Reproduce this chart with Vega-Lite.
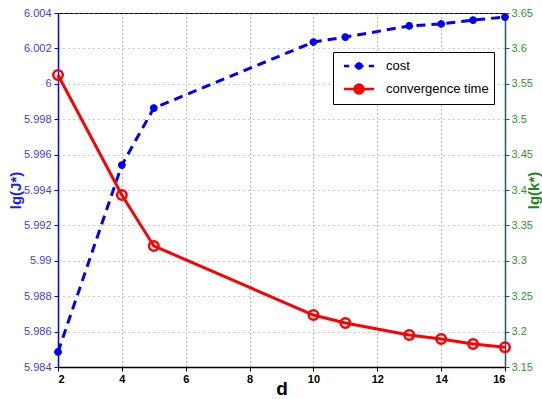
{
  "$schema": "https://vega.github.io/schema/vega-lite/v6.json",
  "width": 447,
  "height": 354,
  "autosize": {"type": "none"},
  "padding": {"left": 58, "top": 13, "right": 37, "bottom": 32},
  "background": "white",
  "config": {
    "view": {"stroke": "black", "strokeWidth": 1},
    "font": "Liberation Sans",
    "axis": {"labelFont": "Liberation Sans", "titleFont": "Liberation Sans", "tickSize": 4, "labelFontSize": 11}
  },
  "data": {
    "values": [
      {"d": 2, "cost": 5.98485, "conv": 3.5624},
      {"d": 4, "cost": 5.99541, "conv": 3.393},
      {"d": 5, "cost": 5.99863, "conv": 3.321},
      {"d": 10, "cost": 6.00236, "conv": 3.2234},
      {"d": 11, "cost": 6.00264, "conv": 3.2121},
      {"d": 13, "cost": 6.00327, "conv": 3.1952},
      {"d": 14, "cost": 6.00338, "conv": 3.1895},
      {"d": 15, "cost": 6.0036, "conv": 3.1825},
      {"d": 16, "cost": 6.00377, "conv": 3.178}
    ]
  },
  "encoding": {
    "x": {
      "field": "d",
      "type": "quantitative",
      "scale": {"domain": [2, 16], "nice": false, "zero": false},
      "axis": {
        "values": [2, 4, 6, 8, 10, 12, 14, 16],
        "title": "d",
        "titleFontSize": 19,
        "titleFontWeight": "bold",
        "titleColor": "black",
        "titleY": 27,
        "titleBaseline": "alphabetic",
        "labelFontWeight": "bold",
        "labelColor": "black",
        "labelFontSize": 11,
        "labelPadding": 2,
        "grid": true,
        "gridDash": [1, 3],
        "gridColor": "#555555",
        "gridOpacity": 0.8,
        "domainColor": "black",
        "domainWidth": 1.5,
        "tickColor": "black"
      }
    }
  },
  "layer": [
    {
      "encoding": {
        "y": {
          "field": "cost",
          "type": "quantitative",
          "scale": {"domain": [5.984, 6.004], "nice": false, "zero": false},
          "axis": {
            "orient": "left",
            "values": [5.984, 5.986, 5.988, 5.99, 5.992, 5.994, 5.996, 5.998, 6, 6.002, 6.004],
            "labelExpr": "format(datum.value, '.3~f')",
            "title": "lg(J*)",
            "titleColor": "#1a1aff",
            "titleFontSize": 15,
            "titleFontWeight": "bold",
            "titleAngle": 270,
            "titleX": -43,
            "titleY": 177,
            "titleBaseline": "middle",
            "titleAlign": "center",
            "labelColor": "#3b3bff",
            "labelFontSize": 11,
            "labelPadding": 3,
            "domainColor": "#0000ff",
            "domainWidth": 1.5,
            "tickColor": "#0000ff",
            "grid": true,
            "gridColor": "#8080ff",
            "gridDash": [1, 4],
            "gridOpacity": 0.9
          }
        }
      },
      "layer": [
        {
          "mark": {"type": "line", "strokeWidth": 3, "strokeDash": [9, 6]},
          "encoding": {
            "color": {
              "datum": "cost",
              "type": "nominal",
              "scale": {"domain": ["cost", "convergence time"], "range": ["#0000ff", "#ff0000"]},
              "legend": {
                "title": null,
                "orient": "none",
                "legendX": 275,
                "legendY": 39,
                "strokeColor": "black",
                "fillColor": "white",
                "padding": 5,
                "rowPadding": 4,
                "labelFontSize": 13,
                "labelColor": "black",
                "labelFont": "Liberation Sans",
                "symbolSize": 225,
                "symbolOffset": 12,
                "labelOffset": 18,
                "symbolStrokeWidth": 2.5,
                "encode": {
                  "symbols": {
                    "update": {
                      "shape": {"signal": "datum.value == 'cost' ? 'M-2,0H-1.3M-0.6,0H0.6M1.3,0H2M-0.5,0H0.5M0,-0.5V0.5M-0.36,-0.36L0.36,0.36M-0.36,0.36L0.36,-0.36' : 'M-2,0H2M-0.6,0A0.6,0.6 0 1,0 0.6,0A0.6,0.6 0 1,0 -0.6,0'"},
                      "fill": {"signal": "datum.value == 'cost' ? 'transparent' : '#ff0000'"},
                      "strokeDash": {"value": []},
                      "strokeWidth": {"value": 2.5}
                    }
                  }
                }
              }
            }
          }
        },
        {
          "mark": {"type": "point", "shape": "M-1,0H1M0,-1V1M-0.7,-0.7L0.7,0.7M-0.7,0.7L0.7,-0.7", "size": 60, "filled": false, "color": "#0000ff", "strokeWidth": 2.5, "opacity": 1}
        }
      ]
    },
    {
      "encoding": {
        "y": {
          "field": "conv",
          "type": "quantitative",
          "scale": {"domain": [3.15, 3.65], "nice": false, "zero": false},
          "axis": {
            "orient": "right",
            "values": [3.15, 3.2, 3.25, 3.3, 3.35, 3.4, 3.45, 3.5, 3.55, 3.6, 3.65],
            "labelExpr": "format(datum.value, '.2~f')",
            "title": "lg(k*)",
            "titleColor": "#1a8a1a",
            "titleFontSize": 15,
            "titleFontWeight": "bold",
            "titleAngle": 270,
            "titleX": 28,
            "titleY": 177,
            "titleBaseline": "middle",
            "titleAlign": "center",
            "labelColor": "#2e962e",
            "labelFontSize": 11,
            "labelPadding": 2,
            "domainColor": "#1f5a78",
            "domainWidth": 1.5,
            "tickColor": "#1f5a78",
            "grid": false
          }
        }
      },
      "layer": [
        {
          "mark": {"type": "line", "strokeWidth": 3},
          "encoding": {
            "color": {"datum": "convergence time", "type": "nominal"}
          }
        },
        {
          "mark": {"type": "point", "shape": "circle", "size": 90, "filled": false, "color": "#ff0000", "strokeWidth": 2.5, "opacity": 1}
        }
      ]
    }
  ],
  "resolve": {"scale": {"y": "independent"}}
}
